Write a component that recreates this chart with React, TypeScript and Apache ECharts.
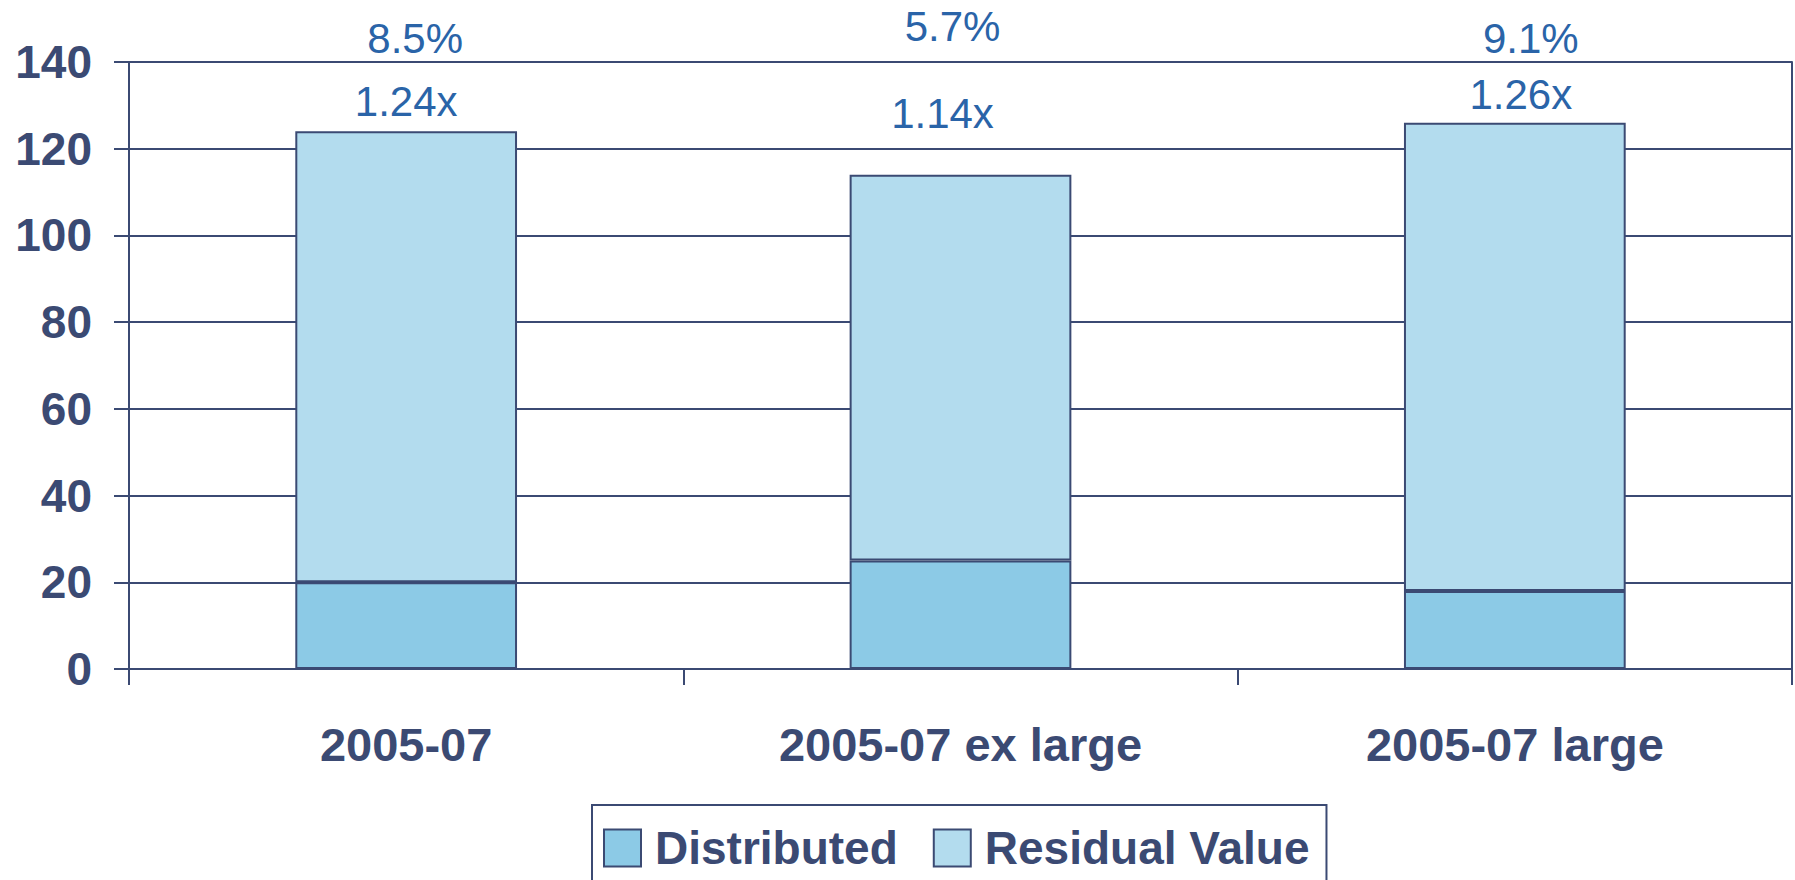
import React, { useEffect, useRef } from "react";
import * as echarts from "echarts";

const categories = ["2005-07", "2005-07 ex large", "2005-07 large"];
const distributed = [20, 25, 18];
const residualValue = [104, 89, 108];
const multipleLabels = ["1.24x", "1.14x", "1.26x"];
const multipleLabelY = [131, 128.2, 132.6];
const pctLabels = ["8.5%", "5.7%", "9.1%"];
const pctLabelY = [145.5, 148.1, 145.5];
const multipleOffsetX = [0, -18, 6];
const pctOffsetX = [9, -8, 16];
const yTicks = [0, 20, 40, 60, 80, 100, 120, 140];

const NAVY = "#3b4a73";
const LABEL_BLUE = "#2a64a8";
const FONT = "'Liberation Sans', Arial, Helvetica, sans-serif";

export default function App() {
  const ref = useRef<HTMLDivElement>(null);
  useEffect(() => {
    if (!ref.current) return;
    const chart = echarts.init(ref.current, undefined, { renderer: "svg" });
    const labelSeries = (name: string, ys: number[], texts: string[], offs: number[]) => ({
      name,
      type: "scatter",
      symbolSize: 1,
      itemStyle: { color: "#ffffff", opacity: 1 },
      clip: false,
      silent: true,
      z: 10,
      data: categories.map((c, i) => ({
        value: [c, ys[i]],
        label: {
          show: true,
          position: "inside",
          formatter: texts[i],
          offset: [offs[i], 0],
          color: LABEL_BLUE,
          textBorderWidth: 0,
          opacity: 1,
          fontFamily: FONT,
          fontSize: 42,
        },
      })),
    });
    const option: any = {
      animation: false,
      backgroundColor: "#ffffff",
      grid: { left: 129, right: 3, top: 62, bottom: 211, containLabel: false },
      legend: {
        data: ["Distributed", "Residual Value"],
        left: 592,
        top: 805,
        padding: [20, 17, 60, 11],
        itemGap: 35,
        itemWidth: 37,
        itemHeight: 37,
        icon: "rect",
        borderColor: NAVY,
        borderWidth: 2,
        textStyle: {
          color: NAVY,
          fontFamily: FONT,
          fontWeight: "bold",
          fontSize: 46,
          padding: [0, 0, 0, 9],
        },
      },
      xAxis: {
        type: "category",
        data: categories,
        boundaryGap: true,
        axisLine: { show: true, lineStyle: { color: NAVY, width: 2 } },
        axisTick: { show: true, length: 16, lineStyle: { color: NAVY, width: 2 } },
        axisLabel: {
          color: NAVY,
          fontFamily: FONT,
          fontWeight: "bold",
          fontSize: 47,
          margin: 52,
        },
        splitLine: { show: false },
      },
      yAxis: [
        {
          type: "value",
          min: yTicks[0],
          max: yTicks[yTicks.length - 1],
          interval: 20,
          axisLine: { show: true, lineStyle: { color: NAVY, width: 2 } },
          axisTick: { show: true, length: 15, lineStyle: { color: NAVY, width: 2 } },
          axisLabel: {
            color: NAVY,
            fontFamily: FONT,
            fontWeight: "bold",
            fontSize: 46,
            margin: 37,
          },
          splitLine: { show: true, lineStyle: { color: NAVY, width: 2 } },
        },
        {
          type: "value",
          position: "right",
          min: yTicks[0],
          max: yTicks[yTicks.length - 1],
          interval: 20,
          axisLine: { show: true, lineStyle: { color: NAVY, width: 2 } },
          axisTick: { show: false },
          axisLabel: { show: false },
          splitLine: { show: false },
        },
      ],
      series: [
        {
          name: "Distributed",
          type: "bar",
          stack: "total",
          data: distributed,
          barCategoryGap: "60%",
          itemStyle: { color: "#8ccae6", borderColor: NAVY, borderWidth: 2 },
        },
        {
          name: "Residual Value",
          type: "bar",
          stack: "total",
          data: residualValue,
          barCategoryGap: "60%",
          itemStyle: { color: "#b3dcee", borderColor: NAVY, borderWidth: 2 },
        },
        labelSeries("multiples", multipleLabelY, multipleLabels, multipleOffsetX),
        labelSeries("irr", pctLabelY, pctLabels, pctOffsetX),
      ],
    };
    chart.setOption(option);
    return () => chart.dispose();
  }, []);
  return (
    <div
      ref={ref}
      style={{ position: "fixed", left: 0, top: 0, width: 1795, height: 880, background: "#fff" }}
    />
  );
}
